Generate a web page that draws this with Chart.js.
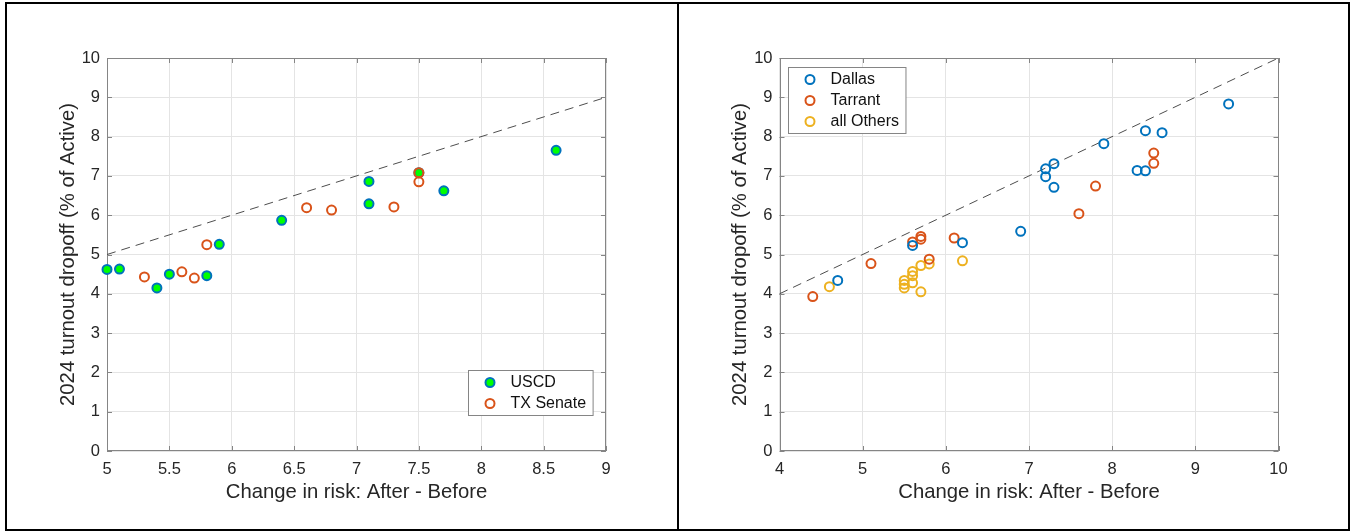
<!DOCTYPE html>
<html><head><meta charset="utf-8">
<script src="https://cdn.jsdelivr.net/npm/chart.js@4.4.1/dist/chart.umd.min.js"></script>
<style>
html,body{margin:0;padding:0;background:#fff;width:1351px;height:531px;overflow:hidden;}
#c1{position:absolute;left:0;top:0;}
#c2{position:absolute;left:678px;top:0;}
.frame{position:absolute;left:5px;top:2px;width:1345px;height:529px;border:2px solid #000;box-sizing:border-box;pointer-events:none;}
.divider{position:absolute;left:677px;top:2px;width:2px;height:529px;background:#000;pointer-events:none;}
</style></head>
<body>
<canvas id="c1" width="678" height="531"></canvas>
<canvas id="c2" width="673" height="531"></canvas>
<div class="frame"></div><div class="divider"></div>
<script>
// ---------- DATA ----------
const xTitle = 'Change in risk: After - Before';
const yTitle = '2024 turnout dropoff (% of Active)';

// Left panel
const uscdLabel = 'USCD';
const uscdX = [5.0, 5.1, 5.4, 5.5, 5.8, 5.9, 6.4, 7.1, 7.1, 7.5, 7.7, 8.6];
const uscdY = [4.62, 4.63, 4.15, 4.50, 4.46, 5.26, 5.87, 6.86, 6.29, 7.08, 6.62, 7.65];
const txSenateLabel = 'TX Senate';
const txSenateX = [5.3, 5.6, 5.7, 5.8, 6.6, 6.8, 7.3, 7.5, 7.5];
const txSenateY = [4.43, 4.56, 4.40, 5.25, 6.19, 6.13, 6.21, 7.08, 6.85];
const refLeftX = [5, 9];
const refLeftY = [5, 9];
const leftXTicks = [5, 5.5, 6, 6.5, 7, 7.5, 8, 8.5, 9];

// Right panel
const dallasLabel = 'Dallas';
const dallasX = [4.7, 5.6, 6.2, 6.9, 7.2, 7.2, 7.3, 7.3, 7.9, 8.3, 8.4, 8.4, 8.6, 9.4];
const dallasY = [4.34, 5.23, 5.30, 5.59, 6.98, 7.18, 6.71, 7.31, 7.82, 7.14, 7.13, 8.15, 8.10, 8.83];
const tarrantLabel = 'Tarrant';
const tarrantX = [4.4, 5.1, 5.6, 5.7, 5.7, 5.8, 6.1, 7.6, 7.8, 8.5, 8.5];
const tarrantY = [3.93, 4.77, 5.32, 5.46, 5.39, 4.88, 5.42, 6.04, 6.74, 7.58, 7.32];
const othersLabel = 'all Others';
const othersX = [4.6, 5.5, 5.5, 5.5, 5.6, 5.6, 5.6, 5.7, 5.7, 5.8, 6.2];
const othersY = [4.18, 4.34, 4.24, 4.15, 4.57, 4.46, 4.28, 4.72, 4.05, 4.76, 4.84];
const refRightX = [4, 10];
const refRightY = [4, 10];
const rightXTicks = [4, 5, 6, 7, 8, 9, 10];

const yTicks = [0, 1, 2, 3, 4, 5, 6, 7, 8, 9, 10];

// ---------- HELPERS ----------
const pts = (xs, ys) => xs.map((x, i) => ({x: x, y: ys[i]}));
const FONT = '"Liberation Sans", Arial, Helvetica, sans-serif';
const AXIS_COLOR = '#858585';
const TEXT_COLOR = '#262626';

const matlabPlugin = {
  id: 'matlabAxes',
  beforeDatasetsDraw(chart) {
    const ctx = chart.ctx, a = chart.chartArea;
    const xs = chart.scales.x, ys = chart.scales.y;
    ctx.save();
    ctx.strokeStyle = AXIS_COLOR;
    ctx.lineWidth = 1;
    ctx.strokeRect(Math.round(a.left) + 0.5, Math.round(a.top) + 0.5,
                   Math.round(a.right - a.left) - 1, Math.round(a.bottom - a.top) - 1);
    const tl = 5;
    ctx.beginPath();
    xs.ticks.forEach(t => {
      const px = Math.round(xs.getPixelForValue(t.value)) + 0.5;
      ctx.moveTo(px, a.bottom); ctx.lineTo(px, a.bottom - tl);
      ctx.moveTo(px, a.top); ctx.lineTo(px, a.top + tl);
    });
    ys.ticks.forEach(t => {
      const py = Math.round(ys.getPixelForValue(t.value)) + 0.5;
      ctx.moveTo(a.left, py); ctx.lineTo(a.left + tl, py);
      ctx.moveTo(a.right, py); ctx.lineTo(a.right - tl, py);
    });
    ctx.stroke();
    ctx.restore();
  },
  afterDraw(chart, args, opts) {
    const ctx = chart.ctx, a = chart.chartArea;
    const items = chart.data.datasets.filter(d => !d.legendHide);
    ctx.save();
    ctx.font = '16px ' + FONT;
    const tw = Math.max(...items.map(d => ctx.measureText(d.label).width));
    const rowH = 21;
    const w = 42 + tw + 7, h = items.length * rowH + 3;
    let x0, y0;
    if (opts.corner === 'se') {
      x0 = a.right - opts.offX - w; y0 = a.bottom - opts.offY - h;
    } else {
      x0 = a.left + opts.offX; y0 = a.top + opts.offY;
    }
    x0 = Math.round(x0) + 0.5; y0 = Math.round(y0) + 0.5;
    ctx.fillStyle = '#fff';
    ctx.fillRect(x0, y0, w, h);
    ctx.strokeStyle = AXIS_COLOR;
    ctx.lineWidth = 1;
    ctx.strokeRect(x0, y0, w, h);
    items.forEach((d, i) => {
      const cy = y0 + 1.5 + rowH * (i + 0.5);
      ctx.beginPath();
      ctx.arc(x0 + 21.5, cy, 4.5, 0, Math.PI * 2);
      if (d.backgroundColor && d.backgroundColor !== 'rgba(0,0,0,0)') {
        ctx.fillStyle = d.backgroundColor; ctx.fill();
      }
      ctx.strokeStyle = d.borderColor; ctx.lineWidth = 2; ctx.stroke();
      ctx.fillStyle = '#111';
      ctx.textBaseline = 'middle';
      ctx.textAlign = 'left';
      ctx.fillText(d.label, x0 + 42, cy + 0.5);
    });
    ctx.restore();
  }
};

function scatterSet(label, xs, ys, edge, fill, order) {
  return {
    label: label, data: pts(xs, ys),
    borderColor: edge, backgroundColor: fill,
    pointBackgroundColor: fill, pointBorderColor: edge,
    pointRadius: 4.5, pointBorderWidth: 2, pointHoverRadius: 4.5,
    showLine: false, clip: false, order: order
  };
}
function refSet(xs, ys) {
  return {
    label: 'ref', legendHide: true, data: pts(xs, ys),
    showLine: true, borderColor: '#4d4d4d', borderWidth: 1, borderDash: [9, 6],
    pointRadius: 0, backgroundColor: 'rgba(0,0,0,0)', clip: false, order: 10
  };
}

function makeOptions(xMin, xMax, xTickVals, yAxisWidth, yTitlePad, padRight, legendOpts) {
  return {
    responsive: false, animation: false, devicePixelRatio: 1, events: [],
    layout: { padding: { top: 58, right: padRight, left: 0, bottom: 0 } },
    plugins: { legend: { display: false }, tooltip: { enabled: false }, matlabAxes: legendOpts },
    scales: {
      x: {
        type: 'linear', min: xMin, max: xMax,
        afterBuildTicks: s => { s.ticks = xTickVals.map(v => ({value: v})); },
        afterFit: s => { s.height = 80; },
        grid: { color: '#e4e4e4', lineWidth: 1, drawTicks: false },
        border: { display: false },
        ticks: { autoSkip: false, maxRotation: 0, padding: 9, color: TEXT_COLOR,
                 font: { family: FONT, size: 16.5 }, callback: v => String(v) },
        title: { display: true, text: xTitle, color: TEXT_COLOR,
                 font: { family: FONT, size: 20.3 }, padding: { top: 0, bottom: 26.3 } }
      },
      y: {
        type: 'linear', min: 0, max: 10,
        afterBuildTicks: s => { s.ticks = yTicks.map(v => ({value: v})); },
        afterFit: s => { s.width = yAxisWidth; },
        grid: { color: '#e4e4e4', lineWidth: 1, drawTicks: false },
        border: { display: false },
        ticks: { padding: 7, color: TEXT_COLOR, font: { family: FONT, size: 16.5 },
                 callback: v => String(v) },
        title: { display: true, text: yTitle, color: TEXT_COLOR,
                 font: { family: FONT, size: 20.3 }, padding: { top: yTitlePad, bottom: 0 } }
      }
    }
  };
}

new Chart(document.getElementById('c1'), {
  type: 'scatter',
  data: { datasets: [
    scatterSet(uscdLabel, uscdX, uscdY, '#0072BD', '#00FF00', 2),
    scatterSet(txSenateLabel, txSenateX, txSenateY, '#D95319', 'rgba(0,0,0,0)', 1),
    refSet(refLeftX, refLeftY)
  ]},
  options: makeOptions(5, 9, leftXTicks, 107, 56, 72, { corner: 'se', offX: 13.5, offY: 36.5 }),
  plugins: [matlabPlugin]
});

new Chart(document.getElementById('c2'), {
  type: 'scatter',
  data: { datasets: [
    scatterSet(dallasLabel, dallasX, dallasY, '#0072BD', 'rgba(0,0,0,0)', 1),
    scatterSet(tarrantLabel, tarrantX, tarrantY, '#D95319', 'rgba(0,0,0,0)', 2),
    scatterSet(othersLabel, othersX, othersY, '#EDB120', 'rgba(0,0,0,0)', 3),
    refSet(refRightX, refRightY)
  ]},
  options: makeOptions(4, 10, rightXTicks, 101.5, 50, 72.5, { corner: 'nw', offX: 8.5, offY: 9 }),
  plugins: [matlabPlugin]
});
</script>
</body></html>
